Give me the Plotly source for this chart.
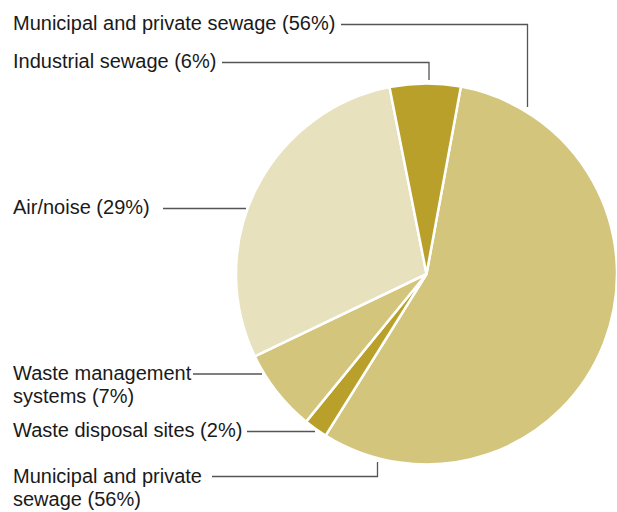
import plotly.graph_objects as go

W, H = 617, 512

categories = ["Municipal and private sewage", "Waste disposal sites",
              "Waste management systems", "Air/noise", "Industrial sewage"]
values = [56, 2, 7, 29, 6]
colors = ["#D4C57C", "#B8A02A", "#D4C57C", "#E8E1BE", "#B8A02A"]

# label text lines (left aligned) with y-centres, and leader polylines
label_lines = [
    ("Municipal and private sewage (56%)", 22.5),
    ("Industrial sewage (6%)", 61),
    ("Air/noise (29%)", 207),
    ("Waste management", 373),
    ("systems (7%)", 396),
    ("Waste disposal sites (2%)", 430),
    ("Municipal and private", 475.5),
    ("sewage (56%)", 498.5),
]
leaders = [
    [(341, 24.5), (527.5, 24.5), (527.5, 107)],
    [(222, 62.5), (429, 62.5), (429, 80)],
    [(163, 208.5), (246, 208.5)],
    [(193, 374), (262, 374)],
    [(247, 431.5), (315, 431.5)],
    [(212, 476.5), (377.5, 476.5), (377.5, 462)],
]

fig = go.Figure()
fig.add_trace(go.Pie(
    labels=categories, values=values, sort=False, direction="clockwise",
    rotation=10.4, textinfo="none", hoverinfo="label+percent",
    marker=dict(colors=colors, line=dict(color="white", width=2.5)),
    domain=dict(x=[236 / W, 617 / W], y=[1 - 465 / H, 1 - 83 / H]),
    showlegend=False,
))

for text, yc in label_lines:
    fig.add_annotation(x=11, y=yc, xref="x", yref="y", text=text, showarrow=False,
                       xanchor="left", yanchor="middle", align="left",
                       font=dict(family="Liberation Sans, Arial, sans-serif", size=20, color="#1a1a1a"))
for pts in leaders:
    path = "M " + " L ".join(f"{x},{y}" for x, y in pts)
    fig.add_shape(type="path", path=path, xref="x", yref="y",
                  line=dict(color="#555555", width=1.3))

fig.update_layout(
    width=W, height=H, margin=dict(l=0, r=0, t=0, b=0),
    paper_bgcolor="white", plot_bgcolor="rgba(0,0,0,0)",
    xaxis=dict(range=[0, W], visible=False, fixedrange=True),
    yaxis=dict(range=[H, 0], visible=False, fixedrange=True),
)

fig.write_html("out.html", config={"displayModeBar": False},
               post_script="document.body.style.margin='0';document.body.style.overflow='hidden';")
